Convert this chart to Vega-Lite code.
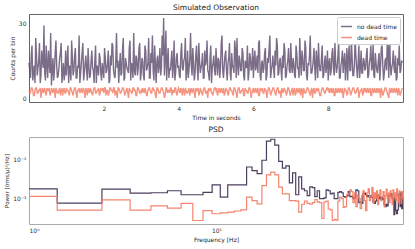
{
"$schema":"https://vega.github.io/schema/vega-lite/v6.json",
"background":"white",
"padding":{"left":4,"top":3,"right":5,"bottom":2},
"spacing":4,
"config":{"font":"DejaVu Sans","view":{"stroke":"#666","strokeWidth":1},
"axis":{"ticks":false,"grid":false,"domain":false,"labelFontSize":6,"titleFontSize":6,"labelColor":"#333","titleColor":"#222","titleFontWeight":"normal","labelPadding":3,"titlePadding":3},
"title":{"fontSize":7.5,"fontWeight":"normal","color":"#222","offset":3}},
"vconcat":[
{"title":"Simulated Observation","width":374,"height":88,
"data":{"values":[
{"t":0,"n":14,"d":3},{"t":0.04,"n":8,"d":2},{"t":0.08,"n":21,"d":4},{"t":0.12,"n":10,"d":1},{"t":0.16,"n":6,"d":3},{"t":0.2,"n":17,"d":4},{"t":0.24,"n":12,"d":2},{"t":0.28,"n":22,"d":3},{"t":0.32,"n":9,"d":0},{"t":0.36,"n":15,"d":4},{"t":0.4,"n":29,"d":3},{"t":0.44,"n":7,"d":2},{"t":0.48,"n":13,"d":4},{"t":0.52,"n":19,"d":3},{"t":0.56,"n":10,"d":1},{"t":0.6,"n":5,"d":4},{"t":0.64,"n":16,"d":2},{"t":0.68,"n":11,"d":3},{"t":0.72,"n":23,"d":4},{"t":0.76,"n":8,"d":2},{"t":0.8,"n":12,"d":3},{"t":0.84,"n":18,"d":1},{"t":0.88,"n":6,"d":4},{"t":0.92,"n":14,"d":3},{"t":0.96,"n":10,"d":2},
{"t":1,"n":9,"d":4},{"t":1.04,"n":21,"d":3},{"t":1.08,"n":13,"d":1},{"t":1.12,"n":7,"d":4},{"t":1.16,"n":16,"d":2},{"t":1.2,"n":11,"d":3},{"t":1.24,"n":20,"d":4},{"t":1.28,"n":8,"d":0},{"t":1.32,"n":12,"d":3},{"t":1.36,"n":6,"d":2},{"t":1.4,"n":14,"d":4},{"t":1.44,"n":22,"d":3},{"t":1.48,"n":10,"d":2},{"t":1.52,"n":17,"d":4},{"t":1.56,"n":7,"d":1},{"t":1.6,"n":13,"d":3},{"t":1.64,"n":9,"d":4},{"t":1.68,"n":19,"d":2},{"t":1.72,"n":11,"d":3},{"t":1.76,"n":15,"d":4},{"t":1.8,"n":6,"d":2},{"t":1.84,"n":12,"d":3},{"t":1.88,"n":18,"d":1},{"t":1.92,"n":10,"d":4},{"t":1.96,"n":14,"d":3},
{"t":2,"n":8,"d":2},{"t":2.04,"n":16,"d":4},{"t":2.08,"n":11,"d":3},{"t":2.12,"n":19,"d":1},{"t":2.16,"n":7,"d":4},{"t":2.2,"n":13,"d":3},{"t":2.24,"n":21,"d":2},{"t":2.28,"n":9,"d":4},{"t":2.32,"n":15,"d":3},{"t":2.36,"n":12,"d":0},{"t":2.4,"n":6,"d":4},{"t":2.44,"n":18,"d":2},{"t":2.48,"n":10,"d":3},{"t":2.52,"n":24,"d":4},{"t":2.56,"n":8,"d":1},{"t":2.6,"n":14,"d":3},{"t":2.64,"n":11,"d":2},{"t":2.68,"n":20,"d":4},{"t":2.72,"n":7,"d":3},{"t":2.76,"n":13,"d":2},{"t":2.8,"n":26,"d":4},{"t":2.84,"n":9,"d":3},{"t":2.88,"n":16,"d":1},{"t":2.92,"n":12,"d":4},{"t":2.96,"n":22,"d":2},
{"t":3,"n":10,"d":3},{"t":3.04,"n":15,"d":4},{"t":3.08,"n":7,"d":2},{"t":3.12,"n":19,"d":3},{"t":3.16,"n":12,"d":1},{"t":3.2,"n":24,"d":4},{"t":3.24,"n":8,"d":3},{"t":3.28,"n":14,"d":2},{"t":3.32,"n":11,"d":4},{"t":3.36,"n":21,"d":3},{"t":3.4,"n":6,"d":0},{"t":3.44,"n":17,"d":4},{"t":3.48,"n":13,"d":2},{"t":3.52,"n":9,"d":3},{"t":3.56,"n":25,"d":4},{"t":3.6,"n":32,"d":2},{"t":3.64,"n":16,"d":1},{"t":3.68,"n":7,"d":4},{"t":3.72,"n":20,"d":3},{"t":3.76,"n":12,"d":2},{"t":3.8,"n":15,"d":4},{"t":3.84,"n":8,"d":3},{"t":3.88,"n":23,"d":2},{"t":3.92,"n":10,"d":4},{"t":3.96,"n":18,"d":1},
{"t":4,"n":13,"d":4},{"t":4.04,"n":8,"d":2},{"t":4.08,"n":22,"d":3},{"t":4.12,"n":11,"d":4},{"t":4.16,"n":16,"d":1},{"t":4.2,"n":7,"d":3},{"t":4.24,"n":19,"d":2},{"t":4.28,"n":12,"d":4},{"t":4.32,"n":26,"d":3},{"t":4.36,"n":9,"d":2},{"t":4.4,"n":14,"d":4},{"t":4.44,"n":10,"d":0},{"t":4.48,"n":21,"d":3},{"t":4.52,"n":7,"d":4},{"t":4.56,"n":15,"d":2},{"t":4.6,"n":12,"d":3},{"t":4.64,"n":18,"d":1},{"t":4.68,"n":8,"d":4},{"t":4.72,"n":13,"d":2},{"t":4.76,"n":23,"d":3},{"t":4.8,"n":10,"d":4},{"t":4.84,"n":16,"d":3},{"t":4.88,"n":6,"d":2},{"t":4.92,"n":14,"d":1},{"t":4.96,"n":11,"d":4},
{"t":5,"n":20,"d":3},{"t":5.04,"n":9,"d":1},{"t":5.08,"n":15,"d":4},{"t":5.12,"n":12,"d":2},{"t":5.16,"n":25,"d":3},{"t":5.2,"n":8,"d":4},{"t":5.24,"n":17,"d":2},{"t":5.28,"n":11,"d":3},{"t":5.32,"n":14,"d":1},{"t":5.36,"n":22,"d":4},{"t":5.4,"n":7,"d":3},{"t":5.44,"n":13,"d":2},{"t":5.48,"n":10,"d":4},{"t":5.52,"n":19,"d":3},{"t":5.56,"n":24,"d":0},{"t":5.6,"n":9,"d":4},{"t":5.64,"n":15,"d":2},{"t":5.68,"n":11,"d":3},{"t":5.72,"n":18,"d":4},{"t":5.76,"n":7,"d":1},{"t":5.8,"n":13,"d":3},{"t":5.84,"n":21,"d":2},{"t":5.88,"n":10,"d":4},{"t":5.92,"n":16,"d":3},{"t":5.96,"n":12,"d":2},
{"t":6,"n":8,"d":4},{"t":6.04,"n":19,"d":3},{"t":6.08,"n":13,"d":2},{"t":6.12,"n":10,"d":4},{"t":6.16,"n":23,"d":1},{"t":6.2,"n":7,"d":3},{"t":6.24,"n":15,"d":4},{"t":6.28,"n":12,"d":2},{"t":6.32,"n":20,"d":3},{"t":6.36,"n":9,"d":0},{"t":6.4,"n":14,"d":4},{"t":6.44,"n":25,"d":3},{"t":6.48,"n":11,"d":2},{"t":6.52,"n":17,"d":4},{"t":6.56,"n":8,"d":3},{"t":6.6,"n":13,"d":1},{"t":6.64,"n":21,"d":4},{"t":6.68,"n":10,"d":2},{"t":6.72,"n":16,"d":3},{"t":6.76,"n":7,"d":4},{"t":6.8,"n":12,"d":2},{"t":6.84,"n":19,"d":3},{"t":6.88,"n":9,"d":1},{"t":6.92,"n":15,"d":4},{"t":6.96,"n":11,"d":3},
{"t":7,"n":22,"d":2},{"t":7.04,"n":10,"d":4},{"t":7.08,"n":14,"d":3},{"t":7.12,"n":8,"d":1},{"t":7.16,"n":18,"d":4},{"t":7.2,"n":12,"d":2},{"t":7.24,"n":24,"d":3},{"t":7.28,"n":9,"d":4},{"t":7.32,"n":16,"d":0},{"t":7.36,"n":11,"d":3},{"t":7.4,"n":20,"d":2},{"t":7.44,"n":7,"d":4},{"t":7.48,"n":13,"d":3},{"t":7.52,"n":25,"d":1},{"t":7.56,"n":10,"d":4},{"t":7.6,"n":15,"d":3},{"t":7.64,"n":12,"d":2},{"t":7.68,"n":19,"d":4},{"t":7.72,"n":8,"d":3},{"t":7.76,"n":14,"d":2},{"t":7.8,"n":11,"d":1},{"t":7.84,"n":21,"d":4},{"t":7.88,"n":9,"d":3},{"t":7.92,"n":17,"d":2},{"t":7.96,"n":13,"d":4},
{"t":8,"n":7,"d":3},{"t":8.04,"n":16,"d":2},{"t":8.08,"n":11,"d":4},{"t":8.12,"n":20,"d":3},{"t":8.16,"n":9,"d":1},{"t":8.2,"n":14,"d":4},{"t":8.24,"n":12,"d":2},{"t":8.28,"n":23,"d":3},{"t":8.32,"n":8,"d":4},{"t":8.36,"n":15,"d":2},{"t":8.4,"n":10,"d":0},{"t":8.44,"n":18,"d":4},{"t":8.48,"n":13,"d":3},{"t":8.52,"n":7,"d":2},{"t":8.56,"n":21,"d":4},{"t":8.6,"n":11,"d":1},{"t":8.64,"n":16,"d":3},{"t":8.68,"n":9,"d":4},{"t":8.72,"n":24,"d":2},{"t":8.76,"n":12,"d":3},{"t":8.8,"n":14,"d":4},{"t":8.84,"n":8,"d":2},{"t":8.88,"n":19,"d":3},{"t":8.92,"n":10,"d":1},{"t":8.96,"n":15,"d":4},
{"t":9,"n":12,"d":4},{"t":9.04,"n":20,"d":3},{"t":9.08,"n":9,"d":2},{"t":9.12,"n":16,"d":4},{"t":9.16,"n":11,"d":1},{"t":9.2,"n":22,"d":3},{"t":9.24,"n":8,"d":4},{"t":9.28,"n":14,"d":2},{"t":9.32,"n":10,"d":3},{"t":9.36,"n":18,"d":4},{"t":9.4,"n":13,"d":0},{"t":9.44,"n":21,"d":3},{"t":9.48,"n":7,"d":2},{"t":9.52,"n":15,"d":4},{"t":9.56,"n":11,"d":3},{"t":9.6,"n":19,"d":1},{"t":9.64,"n":26,"d":4},{"t":9.68,"n":9,"d":2},{"t":9.72,"n":14,"d":3},{"t":9.76,"n":12,"d":4},{"t":9.8,"n":17,"d":2},{"t":9.84,"n":8,"d":3},{"t":9.88,"n":13,"d":4},{"t":9.92,"n":10,"d":1},{"t":9.96,"n":15,"d":3},
{"t":0.02,"n":11,"d":2},{"t":0.06,"n":17,"d":4},{"t":0.1,"n":7,"d":3},{"t":0.14,"n":13,"d":1},{"t":0.18,"n":24,"d":4},{"t":0.22,"n":9,"d":2},{"t":0.26,"n":15,"d":3},{"t":0.3,"n":6,"d":4},{"t":0.34,"n":19,"d":3},{"t":0.38,"n":12,"d":2},{"t":0.42,"n":10,"d":4},{"t":0.46,"n":21,"d":1},{"t":0.5,"n":8,"d":3},{"t":0.54,"n":14,"d":4},{"t":0.58,"n":26,"d":2},{"t":0.62,"n":11,"d":3},{"t":0.66,"n":7,"d":4},{"t":0.7,"n":18,"d":0},{"t":0.74,"n":13,"d":3},{"t":0.78,"n":9,"d":2},{"t":0.82,"n":16,"d":4},{"t":0.86,"n":22,"d":3},{"t":0.9,"n":10,"d":1},{"t":0.94,"n":7,"d":4},{"t":0.98,"n":19,"d":2},
{"t":1.02,"n":15,"d":3},{"t":1.06,"n":6,"d":2},{"t":1.1,"n":12,"d":4},{"t":1.14,"n":23,"d":3},{"t":1.18,"n":9,"d":1},{"t":1.22,"n":17,"d":4},{"t":1.26,"n":8,"d":2},{"t":1.3,"n":13,"d":3},{"t":1.34,"n":25,"d":4},{"t":1.38,"n":10,"d":3},{"t":1.42,"n":18,"d":2},{"t":1.46,"n":7,"d":4},{"t":1.5,"n":14,"d":0},{"t":1.54,"n":11,"d":3},{"t":1.58,"n":20,"d":4},{"t":1.62,"n":8,"d":2},{"t":1.66,"n":15,"d":3},{"t":1.7,"n":12,"d":1},{"t":1.74,"n":6,"d":4},{"t":1.78,"n":21,"d":2},{"t":1.82,"n":13,"d":3},{"t":1.86,"n":9,"d":4},{"t":1.9,"n":16,"d":2},{"t":1.94,"n":7,"d":3},{"t":1.98,"n":11,"d":4},
{"t":2.02,"n":20,"d":4},{"t":2.06,"n":10,"d":1},{"t":2.1,"n":14,"d":3},{"t":2.14,"n":6,"d":2},{"t":2.18,"n":17,"d":4},{"t":2.22,"n":22,"d":3},{"t":2.26,"n":11,"d":4},{"t":2.3,"n":8,"d":1},{"t":2.34,"n":26,"d":2},{"t":2.38,"n":15,"d":4},{"t":2.42,"n":13,"d":3},{"t":2.46,"n":9,"d":2},{"t":2.5,"n":19,"d":4},{"t":2.54,"n":7,"d":3},{"t":2.58,"n":16,"d":2},{"t":2.62,"n":12,"d":4},{"t":2.66,"n":10,"d":0},{"t":2.7,"n":23,"d":3},{"t":2.74,"n":14,"d":2},{"t":2.78,"n":8,"d":4},{"t":2.82,"n":11,"d":3},{"t":2.86,"n":17,"d":1},{"t":2.9,"n":9,"d":4},{"t":2.94,"n":20,"d":3},{"t":2.98,"n":7,"d":2},
{"t":3.02,"n":16,"d":2},{"t":3.06,"n":9,"d":3},{"t":3.1,"n":21,"d":4},{"t":3.14,"n":11,"d":1},{"t":3.18,"n":14,"d":3},{"t":3.22,"n":8,"d":4},{"t":3.26,"n":18,"d":2},{"t":3.3,"n":25,"d":4},{"t":3.34,"n":7,"d":3},{"t":3.38,"n":13,"d":1},{"t":3.42,"n":15,"d":4},{"t":3.46,"n":10,"d":3},{"t":3.5,"n":20,"d":2},{"t":3.54,"n":12,"d":4},{"t":3.58,"n":17,"d":3},{"t":3.62,"n":9,"d":0},{"t":3.66,"n":27,"d":4},{"t":3.7,"n":14,"d":2},{"t":3.74,"n":8,"d":3},{"t":3.78,"n":11,"d":4},{"t":3.82,"n":19,"d":1},{"t":3.86,"n":13,"d":3},{"t":3.9,"n":7,"d":4},{"t":3.94,"n":16,"d":2},{"t":3.98,"n":12,"d":3},
{"t":4.02,"n":9,"d":3},{"t":4.06,"n":18,"d":4},{"t":4.1,"n":12,"d":1},{"t":4.14,"n":15,"d":3},{"t":4.18,"n":24,"d":4},{"t":4.22,"n":11,"d":2},{"t":4.26,"n":8,"d":3},{"t":4.3,"n":16,"d":1},{"t":4.34,"n":13,"d":4},{"t":4.38,"n":20,"d":3},{"t":4.42,"n":7,"d":2},{"t":4.46,"n":17,"d":4},{"t":4.5,"n":12,"d":3},{"t":4.54,"n":22,"d":1},{"t":4.58,"n":10,"d":4},{"t":4.62,"n":14,"d":2},{"t":4.66,"n":8,"d":3},{"t":4.7,"n":19,"d":4},{"t":4.74,"n":15,"d":2},{"t":4.78,"n":11,"d":0},{"t":4.82,"n":7,"d":3},{"t":4.86,"n":21,"d":4},{"t":4.9,"n":12,"d":2},{"t":4.94,"n":17,"d":3},{"t":4.98,"n":9,"d":4},
{"t":5.02,"n":14,"d":4},{"t":5.06,"n":16,"d":2},{"t":5.1,"n":8,"d":3},{"t":5.14,"n":22,"d":4},{"t":5.18,"n":11,"d":2},{"t":5.22,"n":13,"d":1},{"t":5.26,"n":19,"d":4},{"t":5.3,"n":7,"d":3},{"t":5.34,"n":16,"d":2},{"t":5.38,"n":10,"d":4},{"t":5.42,"n":18,"d":3},{"t":5.46,"n":12,"d":1},{"t":5.5,"n":23,"d":4},{"t":5.54,"n":8,"d":2},{"t":5.58,"n":13,"d":3},{"t":5.62,"n":17,"d":4},{"t":5.66,"n":11,"d":2},{"t":5.7,"n":20,"d":3},{"t":5.74,"n":9,"d":1},{"t":5.78,"n":15,"d":4},{"t":5.82,"n":12,"d":3},{"t":5.86,"n":7,"d":2},{"t":5.9,"n":18,"d":4},{"t":5.94,"n":11,"d":0},{"t":5.98,"n":20,"d":3},
{"t":6.02,"n":15,"d":2},{"t":6.06,"n":11,"d":4},{"t":6.1,"n":17,"d":3},{"t":6.14,"n":22,"d":1},{"t":6.18,"n":9,"d":4},{"t":6.22,"n":14,"d":3},{"t":6.26,"n":10,"d":2},{"t":6.3,"n":18,"d":4},{"t":6.34,"n":7,"d":3},{"t":6.38,"n":16,"d":2},{"t":6.42,"n":20,"d":4},{"t":6.46,"n":8,"d":1},{"t":6.5,"n":13,"d":3},{"t":6.54,"n":12,"d":4},{"t":6.58,"n":19,"d":2},{"t":6.62,"n":24,"d":3},{"t":6.66,"n":9,"d":4},{"t":6.7,"n":15,"d":2},{"t":6.74,"n":11,"d":0},{"t":6.78,"n":17,"d":3},{"t":6.82,"n":22,"d":4},{"t":6.86,"n":8,"d":3},{"t":6.9,"n":13,"d":2},{"t":6.94,"n":20,"d":4},{"t":6.98,"n":10,"d":1},
{"t":7.02,"n":13,"d":3},{"t":7.06,"n":16,"d":1},{"t":7.1,"n":9,"d":4},{"t":7.14,"n":21,"d":2},{"t":7.18,"n":12,"d":3},{"t":7.22,"n":8,"d":4},{"t":7.26,"n":15,"d":1},{"t":7.3,"n":19,"d":3},{"t":7.34,"n":11,"d":4},{"t":7.38,"n":23,"d":2},{"t":7.42,"n":9,"d":3},{"t":7.46,"n":14,"d":4},{"t":7.5,"n":17,"d":2},{"t":7.54,"n":10,"d":3},{"t":7.58,"n":12,"d":0},{"t":7.62,"n":20,"d":4},{"t":7.66,"n":7,"d":2},{"t":7.7,"n":15,"d":3},{"t":7.74,"n":22,"d":4},{"t":7.78,"n":11,"d":1},{"t":7.82,"n":16,"d":3},{"t":7.86,"n":8,"d":4},{"t":7.9,"n":14,"d":2},{"t":7.94,"n":10,"d":3},{"t":7.98,"n":19,"d":4},
{"t":8.02,"n":14,"d":4},{"t":8.06,"n":9,"d":3},{"t":8.1,"n":18,"d":2},{"t":8.14,"n":12,"d":4},{"t":8.18,"n":22,"d":1},{"t":8.22,"n":10,"d":3},{"t":8.26,"n":17,"d":4},{"t":8.3,"n":8,"d":2},{"t":8.34,"n":13,"d":3},{"t":8.38,"n":19,"d":4},{"t":8.42,"n":15,"d":2},{"t":8.46,"n":7,"d":3},{"t":8.5,"n":20,"d":1},{"t":8.54,"n":16,"d":4},{"t":8.58,"n":11,"d":3},{"t":8.62,"n":24,"d":2},{"t":8.66,"n":9,"d":4},{"t":8.7,"n":13,"d":3},{"t":8.74,"n":17,"d":2},{"t":8.78,"n":8,"d":4},{"t":8.82,"n":21,"d":0},{"t":8.86,"n":12,"d":3},{"t":8.9,"n":10,"d":4},{"t":8.94,"n":16,"d":2},{"t":8.98,"n":11,"d":3},
{"t":9.02,"n":17,"d":2},{"t":9.06,"n":8,"d":4},{"t":9.1,"n":14,"d":3},{"t":9.14,"n":21,"d":1},{"t":9.18,"n":12,"d":4},{"t":9.22,"n":9,"d":2},{"t":9.26,"n":18,"d":3},{"t":9.3,"n":11,"d":4},{"t":9.34,"n":15,"d":2},{"t":9.38,"n":7,"d":3},{"t":9.42,"n":20,"d":4},{"t":9.46,"n":13,"d":1},{"t":9.5,"n":10,"d":3},{"t":9.54,"n":16,"d":4},{"t":9.58,"n":23,"d":2},{"t":9.62,"n":8,"d":0},{"t":9.66,"n":14,"d":3},{"t":9.7,"n":12,"d":4},{"t":9.74,"n":19,"d":2},{"t":9.78,"n":10,"d":3},{"t":9.82,"n":7,"d":4},{"t":9.86,"n":16,"d":1},{"t":9.9,"n":21,"d":3},{"t":9.94,"n":11,"d":2},{"t":9.98,"n":14,"d":4}
]},
"encoding":{"x":{"field":"t","type":"quantitative","scale":{"domain":[0,10],"nice":false},"axis":{"values":[2,4,6,8],"title":"Time in seconds"}}},
"layer":[
{"mark":{"type":"line","strokeWidth":1.4,"opacity":0.82,"strokeJoin":"miter"},
"encoding":{"y":{"field":"n","type":"quantitative","scale":{"domain":[-1.6,33.6],"nice":false,"zero":false},"axis":{"values":[0,10,20,30],"title":"Counts per bin"}},
"color":{"datum":"no dead time","type":"nominal","scale":{"domain":["no dead time","dead time"],"range":["#5e4c6e","#f4785f"]},
"legend":{"title":null,"orient":"top-right","symbolType":"stroke","symbolStrokeWidth":1.5,"symbolSize":120,"symbolOpacity":1,"labelFontSize":6,"labelColor":"#222","strokeColor":"#ccc","fillColor":"white","padding":3,"offset":3,"rowPadding":1,"cornerRadius":2}}}},
{"mark":{"type":"line","strokeWidth":1.4,"opacity":0.8,"strokeJoin":"miter"},
"encoding":{"y":{"field":"d","type":"quantitative"},"color":{"datum":"dead time","type":"nominal"}}}
]},
{"title":"PSD","width":374,"height":87,
"view":{"stroke":"#aaa"},
"data":{"values":[
{"f":1,"p":1.778e-3,"q":1.148e-3},{"f":2,"p":7.76e-4,"q":5.129e-4},{"f":3,"p":1.738e-3,"q":9.333e-4},{"f":4,"p":1.380e-3,"q":5.129e-4},{"f":5,"p":1.413e-3,"q":6.607e-4},{"f":6,"p":1.585e-3,"q":5.754e-4},{"f":7,"p":1.259e-3,"q":7.586e-4},{"f":8,"p":1.259e-3,"q":2.818e-4},{"f":9,"p":1.445e-3,"q":5.012e-4},{"f":10,"p":2.239e-3,"q":4.169e-4},
{"f":11,"p":1.096e-3,"q":4.365e-4},{"f":12,"p":2.239e-3,"q":4.571e-4},{"f":13,"p":2.239e-3,"q":4.898e-4},{"f":14,"p":2.239e-3,"q":5.248e-4},{"f":15,"p":6.310e-3,"q":1.096e-3},{"f":16,"p":5.129e-3,"q":8.913e-4},{"f":17,"p":4.266e-3,"q":7.413e-4},{"f":18,"p":9.333e-3,"q":2.138e-3},{"f":19,"p":2.818e-2,"q":3.981e-3},{"f":20,"p":3.162e-2,"q":4.677e-3},
{"f":21,"p":2.239e-2,"q":3.981e-3},{"f":22,"p":8.710e-3,"q":1.950e-3},{"f":23,"p":5.888e-3,"q":1.318e-3},{"f":24,"p":6.761e-3,"q":1.318e-3},{"f":25,"p":2.512e-3,"q":8.913e-4},{"f":26,"p":4.467e-3,"q":8.913e-4},{"f":27,"p":1.259e-3,"q":8.710e-4},{"f":28,"p":3.548e-3,"q":4.571e-4},{"f":29,"p":1.778e-3,"q":7.244e-4},{"f":30,"p":1.585e-3,"q":8.710e-4},
{"f":31,"p":1.202e-3,"q":7.586e-4},{"f":32,"p":1.995e-3,"q":7.244e-4},{"f":33,"p":1.905e-3,"q":7.943e-4},{"f":34,"p":1.122e-3,"q":9.550e-4},{"f":35,"p":1.585e-3,"q":8.318e-4},{"f":36,"p":1.0e-3,"q":7.943e-4},{"f":37,"p":1.0e-3,"q":3.162e-4},{"f":38,"p":1.047e-3,"q":8.318e-4},{"f":39,"p":1.660e-3,"q":8.710e-4},{"f":40,"p":1.585e-3,"q":5.495e-4},
{"f":41,"p":1.318e-3,"q":5.248e-4},{"f":42,"p":1.380e-3,"q":2.818e-4},{"f":43,"p":1.0e-3,"q":3.020e-4},{"f":44,"p":1.0e-3,"q":2.884e-4},{"f":45,"p":1.445e-3,"q":8.710e-4},{"f":46,"p":1.514e-3,"q":1.096e-3},{"f":47,"p":1.413e-3,"q":1.0e-3},{"f":48,"p":1.122e-3,"q":6.026e-4},{"f":49,"p":1.096e-3,"q":6.310e-4},{"f":50,"p":1.175e-3,"q":1.259e-3},
{"f":51,"p":1.514e-3,"q":1.318e-3},{"f":52,"p":1.122e-3,"q":1.660e-3},{"f":53,"p":1.148e-3,"q":1.514e-3},{"f":54,"p":1.0e-3,"q":7.943e-4},{"f":55,"p":1.047e-3,"q":1.413e-3},{"f":56,"p":1.660e-3,"q":6.310e-4},{"f":57,"p":1.585e-3,"q":1.259e-3},{"f":58,"p":7.943e-4,"q":1.0e-3},{"f":59,"p":8.318e-4,"q":5.623e-4},{"f":60,"p":7.586e-4,"q":1.202e-3},
{"f":61,"p":1.318e-3,"q":1.585e-3},{"f":62,"p":1.380e-3,"q":8.913e-4},{"f":63,"p":1.259e-3,"q":5.012e-4},{"f":64,"p":1.122e-3,"q":1.413e-3},{"f":65,"p":1.202e-3,"q":1.778e-3},{"f":66,"p":1.072e-3,"q":8.913e-4},{"f":67,"p":1.175e-3,"q":1.122e-3},{"f":68,"p":1.096e-3,"q":1.905e-3},{"f":69,"p":8.318e-4,"q":7.943e-4},{"f":70,"p":7.586e-4,"q":1.413e-3},
{"f":71,"p":8.710e-4,"q":1.0e-3},{"f":72,"p":1.202e-3,"q":1.585e-3},{"f":73,"p":1.259e-3,"q":7.079e-4},{"f":74,"p":1.0e-3,"q":1.259e-3},{"f":75,"p":1.096e-3,"q":1.660e-3},{"f":76,"p":9.550e-4,"q":8.913e-4},{"f":77,"p":1.047e-3,"q":1.122e-3},{"f":78,"p":9.772e-4,"q":1.514e-3},{"f":79,"p":7.079e-4,"q":6.310e-4},{"f":80,"p":6.310e-4,"q":1.202e-3},
{"f":81,"p":7.244e-4,"q":1.738e-3},{"f":82,"p":6.607e-4,"q":1.0e-3},{"f":83,"p":1.202e-3,"q":1.380e-3},{"f":84,"p":1.259e-3,"q":7.943e-4},{"f":85,"p":1.148e-3,"q":1.585e-3},{"f":86,"p":1.318e-3,"q":1.122e-3},{"f":87,"p":1.0e-3,"q":7.079e-4},{"f":88,"p":1.072e-3,"q":1.660e-3},{"f":89,"p":3.981e-4,"q":1.0e-3},{"f":90,"p":1.023e-3,"q":1.413e-3},
{"f":91,"p":5.012e-4,"q":8.913e-4},{"f":92,"p":4.169e-4,"q":1.778e-3},{"f":93,"p":5.248e-4,"q":1.202e-3},{"f":94,"p":1.259e-3,"q":7.943e-4},{"f":95,"p":1.380e-3,"q":1.585e-3},{"f":96,"p":6.310e-4,"q":1.122e-3},{"f":97,"p":1.413e-3,"q":7.586e-4},{"f":98,"p":5.623e-4,"q":1.514e-3},{"f":99,"p":1.122e-3,"q":1.0e-3}
]},
"encoding":{"x":{"field":"f","type":"quantitative","scale":{"type":"log","domain":[1,99],"nice":false},"axis":{"values":[1,10],"labelExpr":"datum.value < 5 ? '10⁰' : '10¹'","title":"Frequency [Hz]"}}},
"layer":[
{"mark":{"type":"line","interpolate":"step","color":"#4e3e5e","strokeWidth":1.2},
"encoding":{"y":{"field":"p","type":"quantitative","scale":{"type":"log","domain":[0.00023,0.036],"nice":false},"axis":{"values":[0.001,0.01],"labelExpr":"datum.value < 0.005 ? '10⁻³' : '10⁻²'","title":"Power [(rms/μ)²/Hz]","titleFontSize":5.5}}}},
{"mark":{"type":"line","interpolate":"step","color":"#f4785f","strokeWidth":1.2,"opacity":0.9},
"encoding":{"y":{"field":"q","type":"quantitative"}}}
]}
]}
